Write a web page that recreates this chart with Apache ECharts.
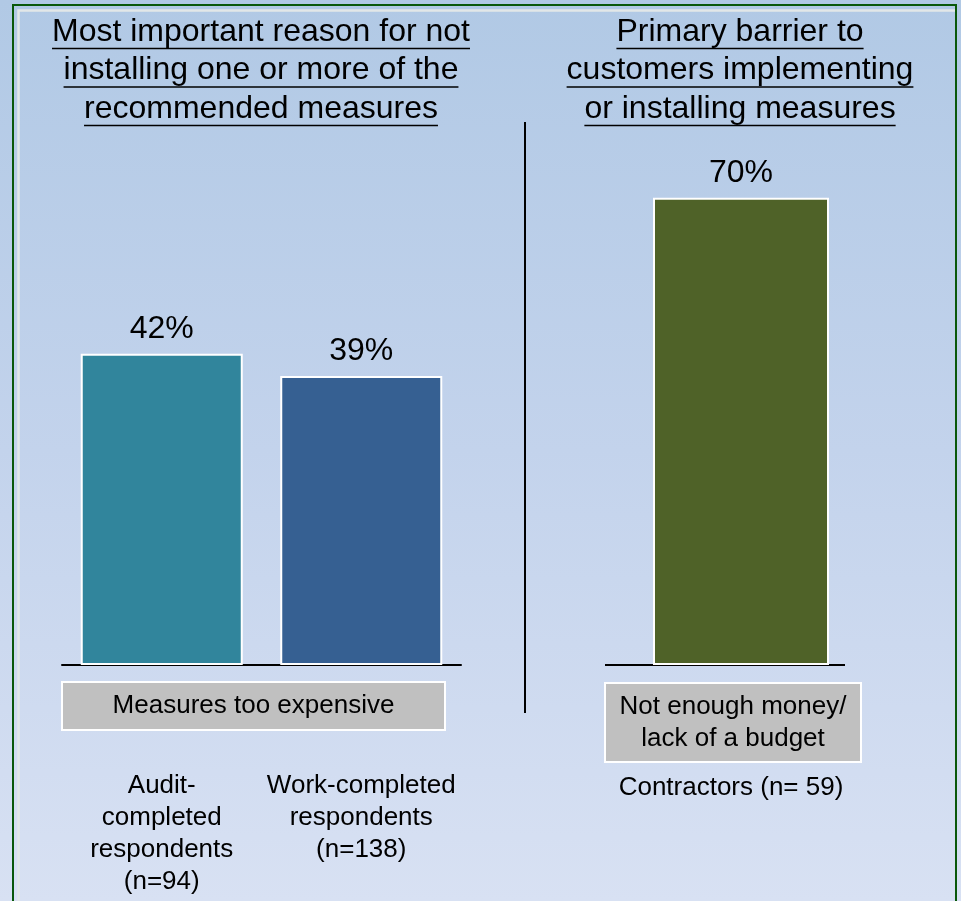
<!DOCTYPE html>
<html>
<head>
<meta charset="utf-8">
<script src="https://cdn.jsdelivr.net/npm/echarts@6/dist/echarts.min.js"></script>
<style>
  html, body { margin: 0; padding: 0; }
  #chart { width: 961px; height: 901px; }
</style>
</head>
<body>
<div id="chart"></div>
<script>
// Left panel: most important reason for not installing measures
const leftTitleLines = ['Most important reason for not', 'installing one or more of the', 'recommended measures'];
const leftCategories = ['Audit-\ncompleted\nrespondents\n(n=94)', 'Work-completed\nrespondents\n(n=138)'];
const leftValues = [42, 39];
const leftColors = ['#31859C', '#366092'];
const leftGroupLabel = 'Measures too expensive';

// Right panel: primary barrier reported by contractors
const rightTitleLines = ['Primary barrier to', 'customers implementing', 'or installing measures'];
const rightCategories = ['Contractors (n= 59)'];
const rightValues = [70];
const rightColors = ['#4F6228'];
const rightGroupLabel = ['Not enough money/', 'lack of a budget'];

const FONT = 'Arial, "Liberation Sans", Helvetica, sans-serif';

const chart = echarts.init(document.getElementById('chart'), null, { renderer: 'canvas' });

const measureCtx = document.createElement('canvas').getContext('2d');
function textWidth(str, size) {
  measureCtx.font = size + 'px ' + FONT;
  return measureCtx.measureText(str).width;
}

// Underlined, centred multi-line heading
function heading(lines, cx, firstY, step) {
  const els = [];
  lines.forEach((line, i) => {
    const y = firstY + i * step;
    els.push({
      type: 'text',
      style: { text: line, x: cx, y: y, font: '32px ' + FONT, fill: '#000',
               textAlign: 'center', textVerticalAlign: 'middle' }
    });
    const w = textWidth(line, 32);
    els.push({
      type: 'line',
      shape: { x1: cx - w / 2, y1: y + 16.5, x2: cx + w / 2, y2: y + 16.5 },
      style: { stroke: '#000', lineWidth: 1.5 }
    });
  });
  return els;
}

// Grey category box spanning a panel's bars
function groupBox(x, y, w, h, lines) {
  return [
    { type: 'rect', shape: { x: x, y: y, width: w, height: h },
      style: { fill: '#C0C0C0', stroke: '#FFFFFF', lineWidth: 2 } },
    { type: 'text',
      style: { text: lines.join('\n'), x: x + w / 2, y: y + h / 2, font: '26px ' + FONT,
               lineHeight: 32, fill: '#000', textAlign: 'center', textVerticalAlign: 'middle' } }
  ];
}

function barSeries(values, colors, axisIndex, width) {
  return {
    type: 'bar',
    xAxisIndex: axisIndex,
    yAxisIndex: axisIndex,
    barWidth: width,
    data: values.map((v, i) => ({ value: v, itemStyle: { color: colors[i] } })),
    itemStyle: { borderColor: '#FFFFFF', borderWidth: 2 },
    label: {
      show: true, position: 'top', distance: 9, formatter: '{c}%',
      fontFamily: FONT, fontSize: 32, color: '#000'
    },
    silent: true,
    animation: false
  };
}

const graphics = []
  // frame
  .concat([
    { type: 'polyline', shape: { points: [[18.5, 910], [18.5, 10.5], [956, 10.5]] },
      style: { stroke: '#E2E7E8', lineWidth: 2.5, fill: null } },
    { type: 'rect', shape: { x: 13, y: 5, width: 943, height: 910 },
      style: { stroke: '#0A580A', lineWidth: 2, fill: null } }
  ])
  .concat(heading(leftTitleLines, 261, 32, 38.5))
  .concat(heading(rightTitleLines, 740, 32, 38.5))
  // divider between panels and baseline of the right panel
  .concat([
    { type: 'line', shape: { x1: 525, y1: 122, x2: 525, y2: 713 },
      style: { stroke: '#000', lineWidth: 2 } },
    { type: 'line', shape: { x1: 605, y1: 665, x2: 845, y2: 665 },
      style: { stroke: '#000', lineWidth: 2 } }
  ])
  .concat(groupBox(62, 682, 383, 48, [leftGroupLabel]))
  .concat(groupBox(605, 683, 256, 79, rightGroupLabel));

const option = {
  animation: false,
  backgroundColor: new echarts.graphic.LinearGradient(0, 0, 0, 1, [
    { offset: 0, color: '#B1C9E5' },
    { offset: 0.5, color: '#C3D3EC' },
    { offset: 1, color: '#D8E1F3' }
  ]),
  grid: [
    { left: 62, width: 399, top: 72, height: 593 },
    { left: 605, width: 272, top: 131, height: 534 }
  ],
  xAxis: [
    {
      type: 'category', gridIndex: 0, data: leftCategories,
      axisLine: { show: true, lineStyle: { color: '#000', width: 2 } },
      axisTick: { show: false },
      axisLabel: { margin: 105, fontFamily: FONT, fontSize: 26, lineHeight: 32,
                   color: '#000', verticalAlign: 'top', interval: 0 }
    },
    {
      type: 'category', gridIndex: 1, data: rightCategories,
      axisLine: { show: false },
      axisTick: { show: false },
      axisLabel: { margin: 107, fontFamily: FONT, fontSize: 26, lineHeight: 32,
                   color: '#000', verticalAlign: 'top', padding: [0, 20, 0, 0] }
    }
  ],
  yAxis: [
    { type: 'value', gridIndex: 0, min: 0, max: 80, show: false, splitLine: { show: false } },
    { type: 'value', gridIndex: 1, min: 0, max: 80, show: false, splitLine: { show: false } }
  ],
  series: [
    barSeries(leftValues, leftColors, 0, 162),
    barSeries(rightValues, rightColors, 1, 176)
  ],
  graphic: { elements: graphics }
};

chart.setOption(option);
</script>
</body>
</html>
